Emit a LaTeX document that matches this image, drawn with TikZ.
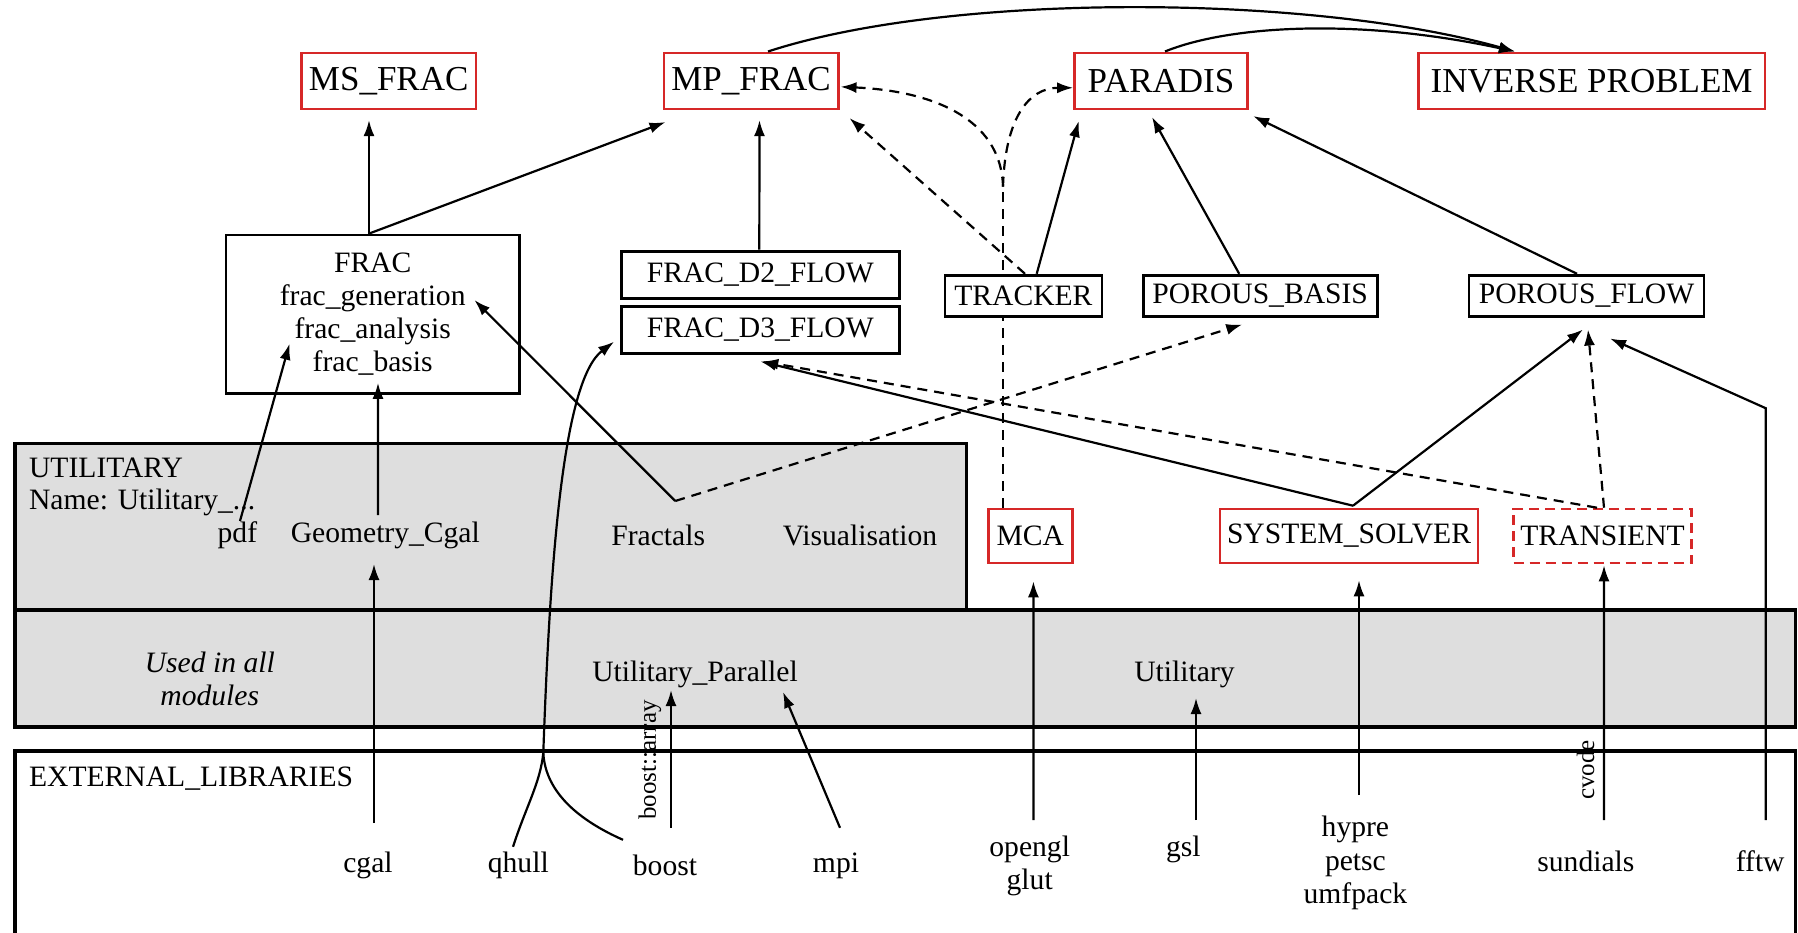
\documentclass[tikz,border=0pt]{standalone}
\usepackage{fontspec}
\setmainfont{Liberation Serif}
\usetikzlibrary{arrows.meta,calc}
\definecolor{myred}{RGB}{214,40,40}
\definecolor{mygray}{RGB}{222,222,222}
\pgfdeclarelayer{bg}
\pgfsetlayers{bg,main}
\newcommand\fA{\fontsize{17.5}{21}\selectfont}
\newcommand\fB{\fontsize{14.8}{16.6}\selectfont}
\newcommand\fC{\fontsize{12.5}{14}\selectfont}
\tikzset{
 redbox/.style={draw=myred, line width=1.3pt, fill=white, inner sep=0pt, font=\fA, minimum height=28pt},
 redboxb/.style={draw=myred, line width=1.3pt, fill=white, inner sep=0pt, font=\fB, minimum height=27pt},
 blkbox/.style={draw=black, line width=1.4pt, fill=white, inner sep=0pt, font=\fB},
 lbl/.style={font=\fB, inner sep=0pt},
 rlbl/.style={font=\fC, inner sep=0pt, rotate=90},
 arr/.style={line width=1.1pt, -{Latex[length=8pt,width=5.5pt]}},
 darr/.style={arr, dash pattern=on 5pt off 3.5pt},
 band/.style={draw=black, line width=1.6pt, fill=mygray},
}
\begin{document}
\begin{tikzpicture}[x=0.5pt,y=-0.5pt]
\useasboundingbox (0,0) rectangle (1798,932);

% ---- top modules
\node[redbox, minimum width=87.2pt] (ms) at (388.7,80.8) {MS\_FRAC};
\node[redbox, minimum width=87.2pt] (mp) at (751,80.8) {MP\_FRAC};
\node[redbox, minimum width=86.5pt] (paradis) at (1161,80.8) {PARADIS};
\node[redbox, minimum width=173.2pt] (inv) at (1591.6,80.8) {INVERSE PROBLEM};

% ---- second row
\node[blkbox, minimum width=146.8pt, minimum height=79.2pt, align=center] (frac) at (372.7,314.2)
  {FRAC\\frac\_generation\\frac\_analysis\\frac\_basis};
\node[blkbox, minimum width=138.8pt, minimum height=23.5pt] (d2) at (760.3,274.6) {FRAC\_D2\_FLOW};
\node[blkbox, minimum width=138.8pt, minimum height=23.5pt] (d3) at (760.3,329.7) {FRAC\_D3\_FLOW};
\node[blkbox, minimum width=78.5pt, minimum height=20.7pt] (tracker) at (1023.4,295.9) {TRACKER};
\node[blkbox, minimum width=117pt, minimum height=20.7pt] (pb) at (1260.2,295.9) {POROUS\_BASIS};
\node[blkbox, minimum width=117.5pt, minimum height=20.7pt] (pf) at (1586.5,295.9) {POROUS\_FLOW};

% ---- red middle boxes
\node[redboxb, minimum width=41.9pt] (mca) at (1030.3,536) {MCA};
\node[redboxb, minimum width=129pt] (ss) at (1349,536) {SYSTEM\_SOLVER};
\node[redboxb, minimum width=88.9pt, dash pattern=on 5pt off 3pt] (tr) at (1602.5,536) {TRANSIENT};

% ---- utilitary texts
\node[lbl, anchor=west] (utl) at (28.7,468) {UTILITARY};
\node[lbl, anchor=west] (uname) at (28.7,502) {Name: Utilitary\_...};
\node[lbl] (pdf) at (237.4,535.5) {pdf};
\node[lbl] (geo) at (385.3,535.5) {Geometry\_Cgal};
\node[lbl] (fractals) at (658.2,535.5) {Fractals};
\node[lbl] (vis) at (860,535.5) {Visualisation};
\node[lbl, align=center, font=\fB\itshape] (used) at (209.8,679) {Used in all\\modules};
\node[lbl] (upar) at (695,674) {Utilitary\_Parallel};
\node[lbl] (util2) at (1184.5,674) {Utilitary};

% ---- external libraries
\node[lbl, anchor=west] (extl) at (28.7,778.6) {EXTERNAL\_LIBRARIES};
\node[lbl] (cgal) at (368,865.8) {cgal};
\node[lbl] (qhull) at (518.3,865.8) {qhull};
\node[lbl] (boost) at (665,865.8) {boost};
\node[lbl] (mpi) at (836,865.8) {mpi};
\node[lbl, align=center] (opengl) at (1029.7,865.8) {opengl\\glut};
\node[lbl] (gsl) at (1183.4,849.7) {gsl};
\node[lbl, align=center] (hypre) at (1355.4,863) {hypre\\petsc\\umfpack};
\node[lbl] (sundials) at (1585.9,861.2) {sundials};
\node[lbl] (fftw) at (1760.2,861.2) {fftw};
\node[rlbl] (barr) at (650,760) {boost::array};
\node[rlbl] (cvode) at (1585.5,770) {cvode};

% ---- background bands and the dashed MCA line
\begin{pgfonlayer}{bg}
 \path[band] (14.9,443.8) rectangle (966.7,610);
 \path[band] (14.9,610) rectangle (1795.7,727);
 \draw[line width=1.6pt] (14.9,960) -- (14.9,751) -- (1795.7,751) -- (1795.7,960);
 \coordinate (split) at ($(mca.north)+(-27.3,-321)$);
 \draw[line width=1.1pt, dash pattern=on 5pt off 3.5pt] ($(mca.north)+(-27.3,0)$) -- (split);
\end{pgfonlayer}

% ---- dashed curves from MCA split
\draw[darr] (split) .. controls ($(split)+(-2,-70)$) and ($(mp.east)+(90,10)$) .. ($(mp.east)+(1,6)$);
\draw[darr] (split) .. controls ($(split)+(2,-68)$) and ($(paradis.west)+(-45,7)$) .. ($(paradis.west)+(0,7)$);

% ---- connectors to top modules
\draw[arr] ($(frac.north)+(-3.7,0)$) -- ($(ms.south)+(-19.7,10)$);
\draw[arr] ($(frac.north)+(-3.7,0)$) -- ($(mp.south west)+(3,12)$);
\draw[arr] ($(d2.north)+(-1,0)$) -- ($(mp.south)+(8.5,10)$);
\draw[darr] ($(tracker.north)+(1.6,0)$) -- ($(mp.south east)+(10,8)$);
\draw[arr] ($(tracker.north)+(13.3,0)$) -- ($(paradis.south west)+(5.5,11)$);
\draw[arr] ($(pb.north)+(-21,0)$) -- ($(paradis.south)+(-9,7)$);
\draw[arr] ($(pf.north)+(-9.5,0)$) -- ($(paradis.south east)+(4.4,6)$);
\draw[arr] ($(mp.north)+(17,0)$) .. controls (950,-8) and (1310,-6) .. ($(inv.north)+(-76.6,0)$);
\draw[arr] ($(paradis.north)+(4,0)$) .. controls (1230,25) and (1360,18) .. ($(inv.north)+(-76.6,0)$);

% ---- Fractals vertex
\coordinate (fv) at ($(fractals)+(17,-34.5)$);
\draw[arr] (fv) -- ($(frac.east)+(-46.5,-14.2)$);
\draw[darr] (fv) -- ($(pb.south)+(-18,6.5)$);

% ---- into FRAC
\draw[arr] ($(pdf)+(2.6,-14.5)$) -- ($(frac.south west)+(65,-51)$);
\draw[arr] ($(geo)+(-7.3,-20.5)$) -- ($(frac.south)+(5.3,-12)$);
\draw[arr] ($(cgal)+(6,-42.8)$) -- ($(geo)+(-11.3,28.5)$);

% ---- qhull / boost
\coordinate (merge) at ($(qhull)+(25,-113)$);
\draw[line width=1.1pt] ($(qhull)+(-5.3,-19)$) .. controls ($(qhull)+(8,-60)$) and ($(merge)+(-3,30)$) .. (merge);
\draw[line width=1.1pt] ($(boost)+(-42,-26)$) .. controls ($(boost)+(-85,-45)$) and ($(merge)+(2,40)$) .. (merge);
\draw[arr] (merge) .. controls ($(merge)+(7,-200)$) and ($(d3.west)+(-56.5,50.3)$) .. ($(d3.west)+(-6,12)$);

% ---- into utilitary band
\draw[arr] ($(boost)+(6,-38)$) -- ($(upar)+(-24,16)$);
\draw[arr] ($(mpi)+(4,-38)$) -- ($(upar)+(88,18)$);
\draw[arr] ($(opengl)+(3.7,-45.8)$) -- ($(mca.south)+(3.1,17)$);
\draw[arr] ($(gsl)+(12.6,-29.7)$) -- ($(util2)+(11.5,24)$);
\draw[arr] ($(hypre)+(3.6,-68)$) -- ($(ss.south)+(10,16)$);
\draw[arr] ($(sundials)+(18,-41)$) -- ($(tr.south)+(1.5,1)$);
\coordinate (fftwbend) at ($(fftw)+(5.5,-453)$);
\draw[arr] ($(fftw)+(5.5,-41)$) -- (fftwbend) -- ($(pf.south)+(23.5,20.5)$);

% ---- solver / transient
\draw[arr] ($(ss.north)+(4,-2)$) -- ($(pf.south)+(-3.5,11.5)$);
\draw[arr] ($(ss.north)+(4,-2)$) -- ($(d3.south)+(0,6.8)$);
\draw[darr] ($(tr.north)+(1.5,0)$) -- ($(pf.south)+(1.5,11.5)$);
\draw[darr] ($(tr.north)+(-5.5,0)$) -- ($(d3.south)+(2,6.8)$);
\end{tikzpicture}
\end{document}
